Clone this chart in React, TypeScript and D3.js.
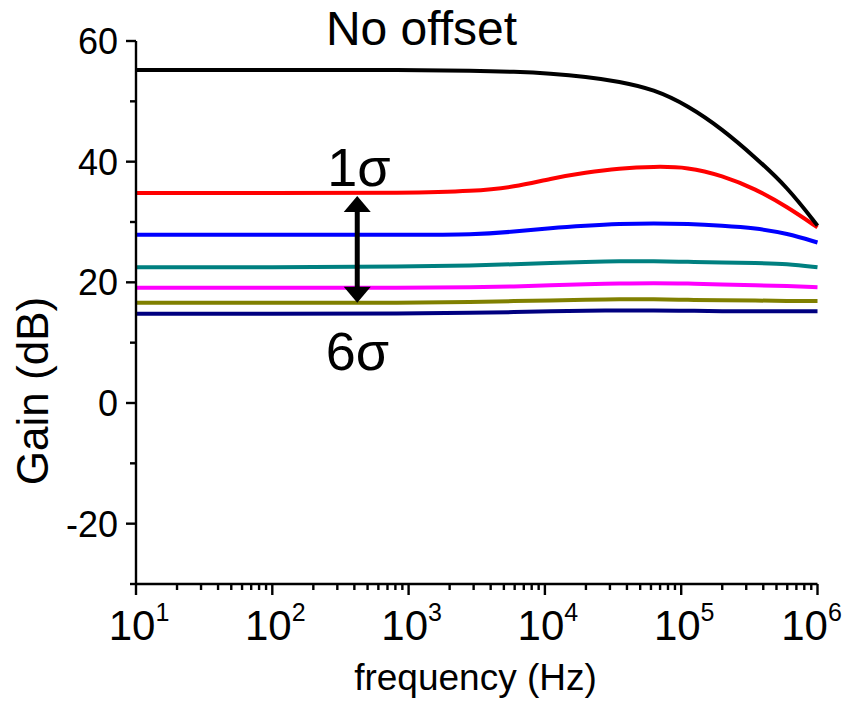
import React from "react";
import * as d3 from "d3";

const freqs = [10, 100, 1000, 3000, 6000, 11000, 20000, 35000, 63000, 112000, 200000, 350000, 600000, 1000000];
const noOffset = [55.2, 55.2, 55.2, 55.1, 54.9, 54.6, 54.1, 53.3, 52.0, 49.3, 45.4, 40.7, 35.8, 29.4];
const sigma1 = [34.8, 34.8, 34.8, 35.1, 35.8, 37.2, 38.2, 38.9, 39.2, 39.1, 37.7, 35.5, 32.5, 29.1];
const sigma2 = [27.9, 27.9, 27.9, 27.9, 28.4, 29.0, 29.4, 29.7, 29.8, 29.7, 29.4, 29.0, 28.1, 26.6];
const sigma3 = [22.5, 22.5, 22.6, 22.8, 23.0, 23.2, 23.4, 23.5, 23.5, 23.4, 23.3, 23.2, 23.1, 22.5];
const sigma4 = [19.1, 19.1, 19.1, 19.2, 19.3, 19.5, 19.7, 19.8, 19.9, 19.8, 19.65, 19.5, 19.4, 19.2];
const sigma5 = [16.6, 16.6, 16.6, 16.75, 16.9, 17.0, 17.1, 17.2, 17.2, 17.1, 17.0, 17.0, 16.9, 16.9];
const sigma6 = [14.8, 14.8, 14.8, 14.95, 15.07, 15.2, 15.3, 15.35, 15.35, 15.3, 15.2, 15.2, 15.2, 15.2];

const seriesNames = ["No offset", "1σ", "2σ", "3σ", "4σ", "5σ", "6σ"];
const seriesValues = [noOffset, sigma1, sigma2, sigma3, sigma4, sigma5, sigma6];
const seriesColors = ["#000000", "#ff0000", "#0000ff", "#008080", "#ff00ff", "#808000", "#000080"];

const yMajorTicks = [-20, 0, 20, 40, 60];
const yMinorTicks = [-30, -10, 10, 30, 50];
const xExponents = [1, 2, 3, 4, 5, 6];

const FONT = "Liberation Sans, Arial, sans-serif";

export default function App() {
  const W = 846, H = 702;
  const x = d3.scaleLog().domain([10, 1e6]).range([136, 817.5]);
  const y = d3.scaleLinear().domain([-30, 60]).range([584, 41]);

  const line = d3
    .line<[number, number]>()
    .x((d) => x(d[0]))
    .y((d) => y(d[1]))
    .curve(d3.curveBasis);

  const xMinor: number[] = [];
  for (let e = 1; e < 6; e++) {
    for (let m = 2; m <= 9; m++) xMinor.push(m * Math.pow(10, e));
  }

  const arrowX = x(420);
  const arrowTop = y(34.3);
  const arrowBot = y(16.6);

  return (
    <svg width={W} height={H} style={{ position: "absolute", left: 0, top: 0, background: "#fff" }} fontFamily={FONT}>
      <rect x={0} y={0} width={W} height={H} fill="#fff" />
      {/* curves */}
      {seriesValues
        .map((vals, i) => ({ vals, i }))
        .reverse()
        .map(({ vals, i }) => (
          <path
            key={seriesNames[i]}
            d={line(freqs.map((f, k) => [f, vals[k]] as [number, number])) || ""}
            fill="none"
            stroke={seriesColors[i]}
            strokeWidth={4}
          />
        ))}
      {/* axes */}
      <line x1={x(10)} x2={x(10)} y1={y(60)} y2={y(-30)} stroke="#000" strokeWidth={2.4} />
      <line x1={x(10)} x2={x(1e6)} y1={y(-30)} y2={y(-30)} stroke="#000" strokeWidth={2.4} />
      {yMajorTicks.map((t) => (
        <g key={"ym" + t}>
          <line x1={x(10) - 10} x2={x(10)} y1={y(t)} y2={y(t)} stroke="#000" strokeWidth={2.4} />
          <text x={x(10) - 18} y={y(t)} dy="0.36em" textAnchor="end" fontSize={36}>
            {t}
          </text>
        </g>
      ))}
      {yMinorTicks.map((t) => (
        <line key={"yn" + t} x1={x(10) - 6} x2={x(10)} y1={y(t)} y2={y(t)} stroke="#000" strokeWidth={2.4} />
      ))}
      {xExponents.map((e) => {
        const px = x(Math.pow(10, e));
        const shift = e === 6 ? -6 : 3;
        return (
          <g key={"xm" + e}>
            <line x1={px} x2={px} y1={y(-30)} y2={y(-30) + 11} stroke="#000" strokeWidth={2.4} />
            <text x={px + shift} y={640} textAnchor="middle" fontSize={42}>
              <tspan>10</tspan>
              <tspan dy={-19} fontSize={25}>
                {e}
              </tspan>
            </text>
          </g>
        );
      })}
      {xMinor.map((f) => (
        <line key={"xn" + f} x1={x(f)} x2={x(f)} y1={y(-30)} y2={y(-30) + 6} stroke="#000" strokeWidth={2.4} />
      ))}
      {/* axis titles */}
      <text x={475.5} y={690} textAnchor="middle" fontSize={37}>
        frequency (Hz)
      </text>
      <text transform={`translate(48, 391) rotate(-90)`} textAnchor="middle" fontSize={44}>
        Gain (dB)
      </text>
      {/* annotations */}
      <text x={421.5} y={45} textAnchor="middle" fontSize={48}>
        {seriesNames[0]}
      </text>
      <text x={359} y={186} textAnchor="middle" fontSize={54}>
        {seriesNames[1]}
      </text>
      <text x={357.5} y={370} textAnchor="middle" fontSize={54}>
        {seriesNames[6]}
      </text>
      {/* double arrow */}
      <line x1={arrowX} x2={arrowX} y1={arrowTop + 14} y2={arrowBot - 14} stroke="#000" strokeWidth={5} />
      <path d={`M${arrowX},${arrowTop} L${arrowX - 13.5},${arrowTop + 16} L${arrowX + 13.5},${arrowTop + 16} Z`} fill="#000" />
      <path d={`M${arrowX},${arrowBot} L${arrowX - 13.5},${arrowBot - 16} L${arrowX + 13.5},${arrowBot - 16} Z`} fill="#000" />
    </svg>
  );
}
